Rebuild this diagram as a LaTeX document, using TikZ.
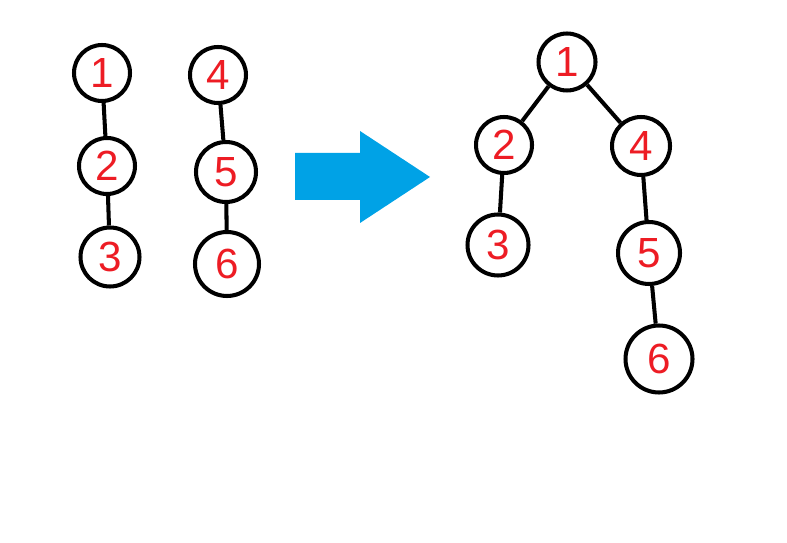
\documentclass[tikz,border=0pt]{standalone}
\usepackage{fontspec}
\setmainfont{Liberation Sans}
\usepackage{xcolor}
\definecolor{edgeblack}{HTML}{000000}
\definecolor{digitred}{HTML}{ED1C24}
\definecolor{arrowblue}{HTML}{00A2E6}
\usetikzlibrary{positioning}

\begin{document}
\begin{tikzpicture}[x=0.02cm,y=-0.02cm,every node/.style={font=\fontsize{24}{24}\selectfont}]
\tikzstyle{vertex}=[circle, draw=edgeblack, line width=2.3pt, inner sep=0pt,
  minimum size=1.12cm, text=digitred]
\tikzstyle{link}=[draw=edgeblack, line width=2.3pt]
\useasboundingbox (0,0) rectangle (787,543);
% two separate chains
\node[vertex] (a1) at (102,73) {1};
\node[vertex] (a2) at (107,166) {2};
\node[vertex, minimum size=1.18cm] (a3) at (110,257) {3};
\node[vertex] (b4) at (218,75) {4};
\node[vertex, minimum size=1.2cm] (b5) at (226,172) {5};
\node[vertex, minimum size=1.28cm] (b6) at (227,264) {6};
\draw[link] (a1) -- (a2);
\draw[link] (a2) -- (a3);
\draw[link] (b4) -- (b5);
\draw[link] (b5) -- (b6);
% arrow
\fill[arrowblue] (295,153) -- (360,153) -- (360,131) -- (430,177)
  -- (360,223) -- (360,200) -- (295,200) -- cycle;
% merged tree
\node[vertex, minimum size=1.14cm] (t1) at (567,62) {1};
\node[vertex] (t2) at (504,145) {2};
\node[vertex, minimum size=1.16cm] (t4) at (641,146) {4};
\node[vertex, minimum size=1.22cm] (t3) at (498,245) {3};
\node[vertex, minimum size=1.24cm] (t5) at (649,253) {5};
\node[vertex, minimum size=1.34cm] (t6) at (659,359) {6};
\draw[link] (t1) -- (t2);
\draw[link] (t1) -- (t4);
\draw[link] (t2) -- (t3);
\draw[link] (t4) -- (t5);
\draw[link] (t5) -- (t6);
\end{tikzpicture}
\end{document}
